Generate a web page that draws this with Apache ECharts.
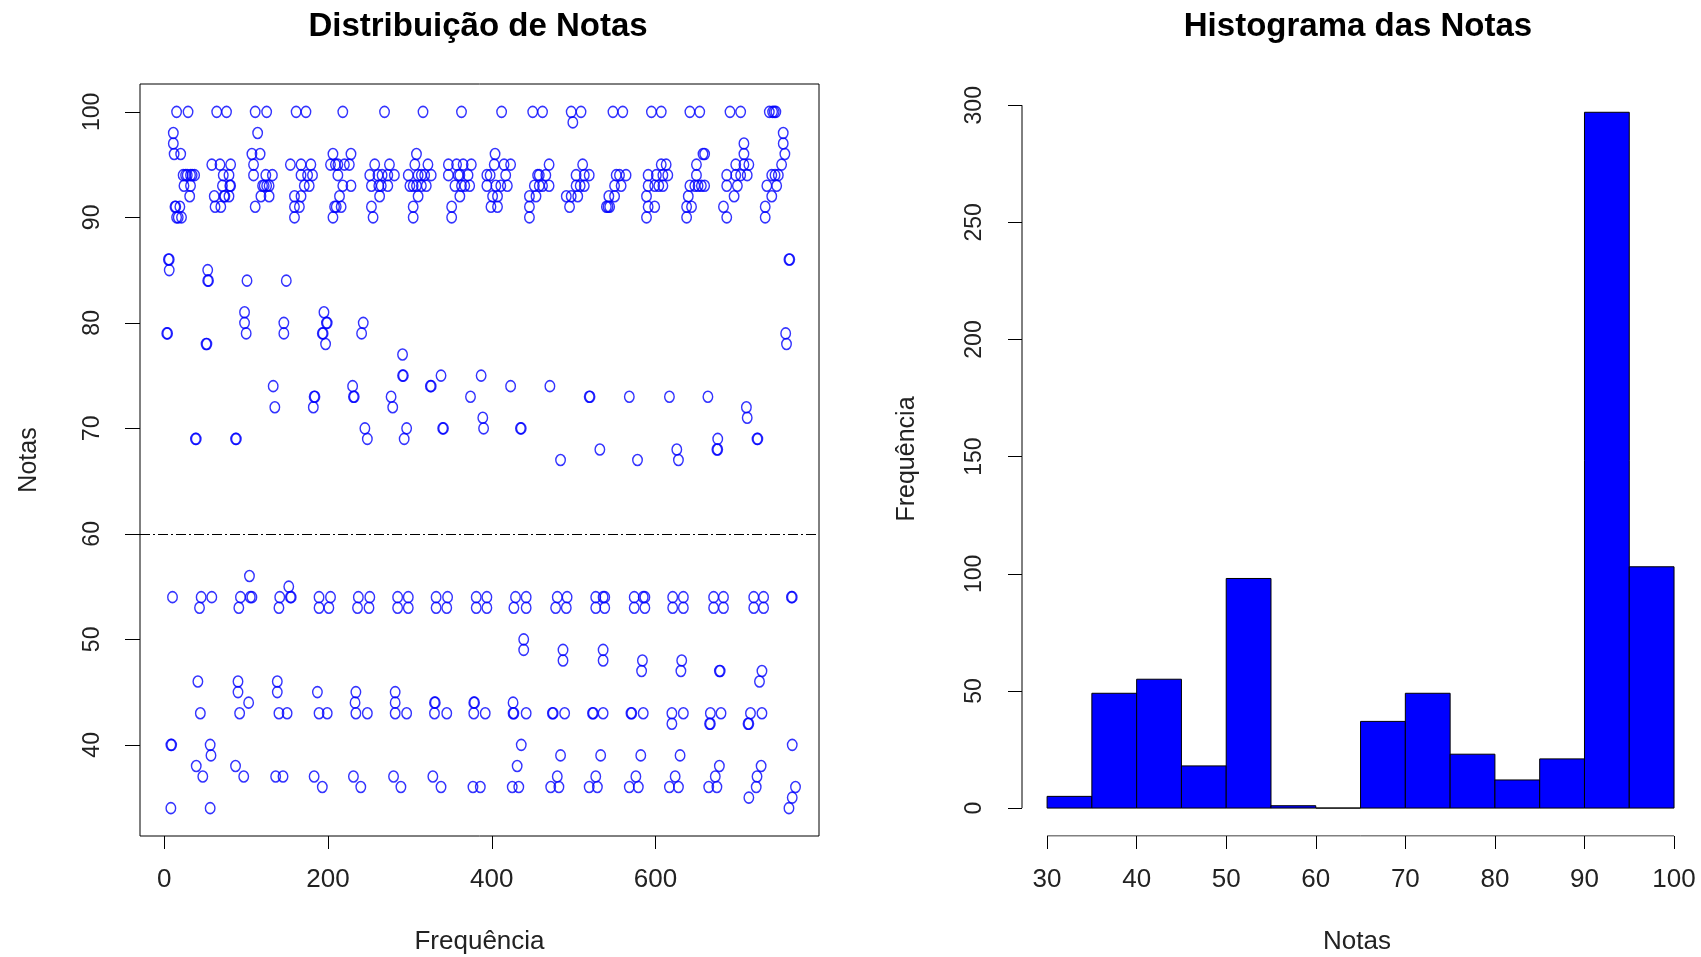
<!DOCTYPE html>
<html><head><meta charset="utf-8">
<script src="https://cdn.jsdelivr.net/npm/echarts@6/dist/echarts.min.js"></script>
<style>html,body{margin:0;padding:0;background:#fff}#c{width:1701px;height:957px}</style>
</head><body><div id="c"></div>
<script>
// ---- Dados: índice do aluno (Frequência) x Nota ----
const pontosFaixa90a100 = [
 [15,100],[29,100],[11,98],[11,97],[12,96],[20,96],[23,94],[26,94],[28,94],[32,94],[34,94],[37,94],[24,93],[32,93],[31,92],[13,91],[14,91],[19,91],[15,90],[17,90],[21,90],
 [64,100],[76,100],[58,95],[68,95],[81,95],[72,94],[79,94],[71,93],[80,93],[81,93],[61,92],[73,92],[74,92],[79,92],[62,91],[69,91],
 [111,100],[125,100],[114,98],[107,96],[117,96],[109,95],[109,94],[124,94],[132,94],[120,93],[122,93],[125,93],[128,93],[118,92],[128,92],[111,91],
 [161,100],[173,100],[154,95],[167,95],[179,95],[167,94],[175,94],[181,94],[171,93],[177,93],[159,92],[167,92],[159,91],[165,91],[159,90],
 [218,100],[206,96],[228,96],[203,95],[209,95],[212,95],[220,95],[226,95],[212,94],[218,93],[228,93],[214,92],[208,91],[210,91],[216,91],[206,90],
 [269,100],[257,95],[275,95],[251,94],[261,94],[266,94],[273,94],[281,94],[253,93],[262,93],[265,93],[273,93],[263,92],[253,91],[255,90],
 [316,100],[308,96],[306,95],[322,95],[298,94],[310,94],[314,94],[318,94],[326,94],[300,93],[304,93],[308,93],[314,93],[320,93],[310,92],[304,91],[304,90],
 [363,100],[347,95],[357,95],[365,95],[375,95],[347,94],[359,94],[361,94],[371,94],[355,93],[363,93],[367,93],[373,93],[361,92],[351,91],[351,90],
 [412,100],[404,96],[403,95],[415,95],[423,95],[394,94],[398,94],[417,94],[394,93],[405,93],[411,93],[419,93],[401,92],[407,92],[399,91],[407,91],
 [450,100],[462,100],[470,95],[456,94],[458,94],[466,94],[452,93],[458,93],[462,93],[470,93],[446,92],[454,92],[446,91],[446,90],
 [497,100],[509,100],[499,99],[511,95],[503,94],[513,94],[519,94],[503,93],[508,93],[513,93],[491,92],[497,92],[505,92],[495,91],
 [548,100],[560,100],[552,94],[556,94],[564,94],[550,93],[558,93],[543,92],[550,92],[540,91],[542,91],[544,91],
 [595,100],[607,100],[607,95],[613,95],[591,94],[601,94],[609,94],[615,94],[591,93],[599,93],[604,93],[609,93],[589,92],[591,91],[599,91],[589,90],
 [642,100],[654,100],[658,96],[660,96],[650,95],[650,94],[642,93],[648,93],[652,93],[656,93],[660,93],[640,92],[638,91],[644,91],[638,90],
 [691,100],[704,100],[708,97],[708,96],[698,95],[708,95],[714,95],[687,94],[698,94],[704,94],[712,94],[687,93],[700,93],[696,92],[683,91],[687,90],
 [739,100],[743,100],[745,100],[747,100],[756,98],[756,97],[758,96],[754,95],[742,94],[746,94],[750,94],[736,93],[748,93],[742,92],[734,91],[734,90]
];
const pontosFaixa65a89 = [
 [5,86],[6,86],[6,85],[53,85],[53,84],[54,84],[101,84],[149,84],[98,81],[98,80],[100,79],[146,80],[146,79],
 [195,81],[198,80],[199,80],[193,79],[194,79],[197,78],[243,80],[241,79],[3,79],[4,79],[51,78],[52,78],
 [291,77],[291,75],[292,75],[338,75],[387,75],[133,74],[135,72],[183,73],[184,73],[182,72],[230,74],[231,73],[232,73],
 [277,73],[279,72],[325,74],[326,74],[374,73],[389,71],[390,70],[245,70],[248,69],[296,70],[293,69],[340,70],[341,70],
 [38,69],[39,69],[87,69],[88,69],[423,74],[471,74],[519,73],[520,73],[568,73],[617,73],[664,73],[711,72],[712,71],
 [435,70],[436,70],[484,67],[532,68],[578,67],[626,68],[628,67],[676,69],[675,68],[676,68],[724,69],[725,69],
 [763,86],[764,86],[759,79],[760,78]
];
const pontosFaixa34a56 = [
 [10,54],[45,54],[58,54],[43,53],[104,56],[93,54],[105,54],[107,54],[91,53],[152,55],[141,54],[154,54],[155,54],[140,53],
 [189,54],[203,54],[189,53],[201,53],[237,54],[251,54],[236,53],[250,53],[285,54],[298,54],[285,53],[298,53],
 [332,54],[346,54],[332,53],[345,53],[381,54],[394,54],[381,53],[394,53],[429,54],[442,54],[427,53],[442,53],
 [480,54],[492,54],[478,53],[491,53],[527,54],[536,54],[538,54],[527,53],[538,53],[574,54],[585,54],[587,54],[574,53],[587,53],
 [621,54],[634,54],[621,53],[634,53],[671,54],[683,54],[671,53],[683,53],[720,54],[732,54],[720,53],[732,53],[766,54],[767,54],
 [439,50],[439,49],[487,49],[487,48],[536,49],[536,48],[584,48],[583,47],[632,48],[631,47],[678,47],[679,47],[730,47],[727,46],
 [41,46],[44,43],[90,46],[90,45],[103,44],[92,43],[138,46],[138,45],[140,43],[150,43],[187,45],[189,43],[199,43],
 [234,45],[233,44],[234,43],[248,43],[282,45],[282,44],[282,43],[296,43],[330,44],[331,44],[330,43],[345,43],
 [378,44],[379,44],[378,43],[392,43],[426,44],[426,43],[427,43],[442,43],[474,43],[475,43],[489,43],[523,43],[524,43],[536,43],
 [570,43],[571,43],[585,43],[620,43],[634,43],[620,42],[667,43],[680,43],[666,42],[667,42],[716,43],[730,43],[713,42],[714,42],
 [8,40],[9,40],[56,40],[57,39],[39,38],[47,37],[87,38],[97,37],[136,37],[145,37],[183,37],[193,36],[231,37],[240,36],
 [280,37],[289,36],[328,37],[338,36],[377,36],[386,36],[436,40],[431,38],[425,36],[433,36],[484,39],[480,37],[472,36],[482,36],
 [533,39],[527,37],[519,36],[529,36],[582,39],[576,37],[568,36],[579,36],[630,39],[624,37],[617,36],[628,36],
 [678,38],[673,37],[665,36],[675,36],[729,38],[724,37],[723,36],[714,35],[767,40],[771,36],[767,35],[763,34],[8,34],[56,34]
];
const notaCorte = 60;
const ticksNotas = [40,50,60,70,80,90,100];
const ticksIndice = [0,200,400,600];

// ---- Histograma ----
const classeInicio = [30,35,40,45,50,55,60,65,70,75,80,85,90,95];
const classeFim    = [35,40,45,50,55,60,65,70,75,80,85,90,95,100];
const frequencias  = [5,49,55,18,98,1,0,37,49,23,12,21,297,103];
const ticksHistX = [30,40,50,60,70,80,90,100];
const ticksHistY = [0,50,100,150,200,250,300];

const FONT = 'Liberation Sans, Arial, sans-serif';
const TXT = '#222';
const histData = classeInicio.map((s,i)=>[s, classeFim[i], frequencias[i]]);

const chart = echarts.init(document.getElementById('c'), null, {renderer:'canvas'});
const scatterStyle = {
  type:'scatter', xAxisIndex:0, yAxisIndex:0, symbol:'circle', symbolSize:[9.5,11],
  itemStyle:{color:'rgba(0,0,0,0)', borderColor:'#0000ff', borderWidth:1.5},
  emphasis:{disabled:true}, silent:true
};
chart.setOption({
  animation:false,
  backgroundColor:'#fff',
  graphic:[
    {type:'text', x:478, y:27, style:{text:'Distribuição de Notas', font:'bold 33px '+FONT, fill:'#000', align:'center', verticalAlign:'middle'}},
    {type:'text', x:1358, y:27, style:{text:'Histograma das Notas', font:'bold 33px '+FONT, fill:'#000', align:'center', verticalAlign:'middle'}}
  ],
  grid:[
    {left:140, right:882, top:84, bottom:121, show:true, borderColor:'#000', borderWidth:1, backgroundColor:'rgba(0,0,0,0)', outerBoundsMode:'none', containLabel:false},
    {left:1022, right:0, top:82, bottom:121, show:false, outerBoundsMode:'none', containLabel:false}
  ],
  xAxis:[
    {type:'value', gridIndex:0, min:-29.7, max:799.7, splitLine:{show:false},
     axisLine:{show:false, onZero:false},
     axisTick:{show:true, length:13, lineStyle:{color:'#000'}, customValues:ticksIndice},
     axisLabel:{customValues:ticksIndice, fontSize:26, fontFamily:FONT, color:TXT, margin:31},
     name:'Frequência', nameLocation:'middle', nameGap:93,
     nameTextStyle:{fontSize:26, fontFamily:FONT, color:TXT}},
    {type:'value', gridIndex:1, min:27.2, max:103.01, splitLine:{show:false},
     axisLine:{show:false, onZero:false},
     axisTick:{show:true, length:13, lineStyle:{color:'#000'}, customValues:ticksHistX},
     axisLabel:{customValues:ticksHistX, fontSize:26, fontFamily:FONT, color:TXT, margin:31},
     name:'Notas', nameLocation:'middle', nameGap:93,
     nameTextStyle:{fontSize:26, fontFamily:FONT, color:TXT, padding:[0,9,0,0]}}
  ],
  yAxis:[
    {type:'value', gridIndex:0, min:31.36, max:102.64, splitLine:{show:false},
     axisLine:{show:false, onZero:false},
     axisTick:{show:true, length:15, lineStyle:{color:'#000'}, customValues:ticksNotas},
     axisLabel:{customValues:ticksNotas, rotate:90, fontSize:23, fontFamily:FONT, color:TXT, margin:36},
     name:'Notas', nameLocation:'middle', nameGap:98, nameRotate:90,
     nameTextStyle:{fontSize:25, fontFamily:FONT, color:TXT}},
    {type:'value', gridIndex:1, min:-11.92, max:309.92, splitLine:{show:false},
     axisLine:{show:false, onZero:false},
     axisTick:{show:true, length:14, lineStyle:{color:'#000'}, customValues:ticksHistY},
     axisLabel:{customValues:ticksHistY, rotate:90, fontSize:23, fontFamily:FONT, color:TXT, margin:36},
     name:'Frequência', nameLocation:'middle', nameGap:102, nameRotate:90,
     nameTextStyle:{fontSize:25, fontFamily:FONT, color:TXT}}
  ],
  series:[
    Object.assign({}, scatterStyle, {data:pontosFaixa90a100,
      markLine:{silent:true, symbol:'none', label:{show:false},
        lineStyle:{color:'#000', type:[10,3,2,3], width:1}, data:[{yAxis:notaCorte}]}}),
    Object.assign({}, scatterStyle, {data:pontosFaixa65a89}),
    Object.assign({}, scatterStyle, {data:pontosFaixa34a56}),
    {type:'custom', xAxisIndex:1, yAxisIndex:1, data:histData, encode:{x:[0,1], y:2}, silent:true,
     renderItem:function(params, api){
       const p0 = api.coord([api.value(0), api.value(2)]);
       const p1 = api.coord([api.value(1), 0]);
       return {type:'rect', shape:{x:p0[0], y:p0[1], width:p1[0]-p0[0], height:p1[1]-p0[1]},
               style:{fill:'#0000ff', stroke:'#000', lineWidth:1}};
     }},
    {type:'line', xAxisIndex:1, yAxisIndex:1, data:[[27.2,ticksHistY[0]],[27.2,ticksHistY[ticksHistY.length-1]]],
     symbol:'none', silent:true, lineStyle:{color:'#000', width:1}},
    {type:'line', xAxisIndex:1, yAxisIndex:1, data:[[ticksHistX[0],-11.92],[ticksHistX[ticksHistX.length-1],-11.92]],
     symbol:'none', silent:true, lineStyle:{color:'#000', width:1}}
  ]
});
</script></body></html>
